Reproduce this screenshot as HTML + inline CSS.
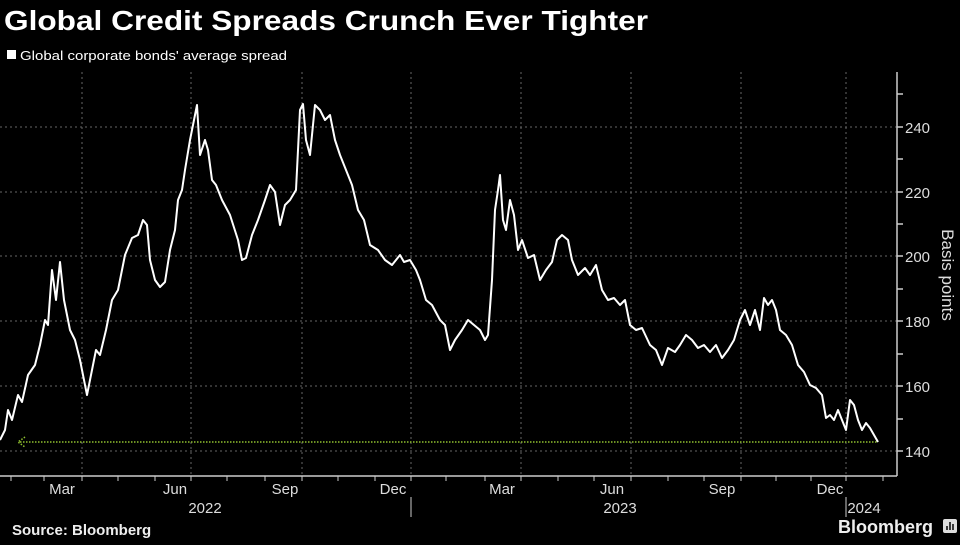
<!DOCTYPE html>
<html><head><meta charset="utf-8"><style>
body{margin:0;background:#000;width:960px;height:540px;overflow:hidden;font-family:"Liberation Sans",sans-serif;}
</style></head><body>
<svg width="960" height="540" xmlns="http://www.w3.org/2000/svg" font-family="Liberation Sans, sans-serif">
<rect width="960" height="540" fill="#000"/>
<text x="4" y="30" fill="#fff" font-size="28" font-weight="bold" textLength="644" lengthAdjust="spacingAndGlyphs">Global Credit Spreads Crunch Ever Tighter</text>
<rect x="7" y="50" width="9" height="9" fill="#fff"/>
<text x="20" y="60" fill="#fff" font-size="13" textLength="267" lengthAdjust="spacingAndGlyphs">Global corporate bonds' average spread</text>
<g stroke="#666" stroke-dasharray="2,3" stroke-width="1">
<line x1="0" y1="451" x2="897" y2="451"/><line x1="0" y1="386" x2="897" y2="386"/>
<line x1="0" y1="321" x2="897" y2="321"/><line x1="0" y1="256" x2="897" y2="256"/>
<line x1="0" y1="192" x2="897" y2="192"/><line x1="0" y1="127" x2="897" y2="127"/>
<line x1="82" y1="72" x2="82" y2="476"/><line x1="191" y1="72" x2="191" y2="476"/>
<line x1="302" y1="72" x2="302" y2="476"/><line x1="411" y1="72" x2="411" y2="476"/>
<line x1="521" y1="72" x2="521" y2="476"/><line x1="631" y1="72" x2="631" y2="476"/>
<line x1="741" y1="72" x2="741" y2="476"/><line x1="846" y1="72" x2="846" y2="476"/>
</g>
<g stroke="#ccc" stroke-width="1.5">
<line x1="0" y1="476" x2="897" y2="476"/><line x1="897" y1="72" x2="897" y2="476"/>
<line x1="897" y1="451" x2="903" y2="451"/><line x1="897" y1="419" x2="903" y2="419"/><line x1="897" y1="386" x2="903" y2="386"/><line x1="897" y1="354" x2="903" y2="354"/><line x1="897" y1="321" x2="903" y2="321"/><line x1="897" y1="289" x2="903" y2="289"/><line x1="897" y1="256" x2="903" y2="256"/><line x1="897" y1="224" x2="903" y2="224"/><line x1="897" y1="192" x2="903" y2="192"/><line x1="897" y1="159" x2="903" y2="159"/><line x1="897" y1="127" x2="903" y2="127"/><line x1="897" y1="94" x2="903" y2="94"/>
</g>
<g stroke="#ccc" stroke-width="1">
<line x1="11" y1="476" x2="11" y2="481"/><line x1="44" y1="476" x2="44" y2="481"/><line x1="82" y1="476" x2="82" y2="481"/><line x1="118" y1="476" x2="118" y2="481"/><line x1="155" y1="476" x2="155" y2="481"/><line x1="191" y1="476" x2="191" y2="481"/><line x1="227" y1="476" x2="227" y2="481"/><line x1="265" y1="476" x2="265" y2="481"/><line x1="302" y1="476" x2="302" y2="481"/><line x1="338" y1="476" x2="338" y2="481"/><line x1="375" y1="476" x2="375" y2="481"/><line x1="411" y1="476" x2="411" y2="481"/><line x1="446" y1="476" x2="446" y2="481"/><line x1="485" y1="476" x2="485" y2="481"/><line x1="521" y1="476" x2="521" y2="481"/><line x1="558" y1="476" x2="558" y2="481"/><line x1="594" y1="476" x2="594" y2="481"/><line x1="631" y1="476" x2="631" y2="481"/><line x1="668" y1="476" x2="668" y2="481"/><line x1="704" y1="476" x2="704" y2="481"/><line x1="741" y1="476" x2="741" y2="481"/><line x1="776" y1="476" x2="776" y2="481"/><line x1="811" y1="476" x2="811" y2="481"/><line x1="846" y1="476" x2="846" y2="481"/><line x1="883" y1="476" x2="883" y2="481"/>
<line x1="411" y1="497" x2="411" y2="517"/><line x1="846" y1="497" x2="846" y2="517"/>
</g>
<g fill="#ddd" font-size="15">
<text x="62" y="494" text-anchor="middle">Mar</text><text x="175" y="494" text-anchor="middle">Jun</text>
<text x="285" y="494" text-anchor="middle">Sep</text><text x="393" y="494" text-anchor="middle">Dec</text>
<text x="502" y="494" text-anchor="middle">Mar</text><text x="612" y="494" text-anchor="middle">Jun</text>
<text x="722" y="494" text-anchor="middle">Sep</text><text x="830" y="494" text-anchor="middle">Dec</text>
<text x="205" y="513" text-anchor="middle">2022</text><text x="620" y="513" text-anchor="middle">2023</text>
<text x="864" y="513" text-anchor="middle">2024</text>
<text x="905" y="457">140</text><text x="905" y="392">160</text><text x="905" y="327">180</text>
<text x="905" y="262">200</text><text x="905" y="198">220</text><text x="905" y="133">240</text>
</g>
<text transform="translate(942,275) rotate(90)" fill="#ddd" font-size="17" text-anchor="middle">Basis points</text>
<line x1="20" y1="442" x2="878" y2="442" stroke="#8fbf2f" stroke-width="1.5" stroke-dasharray="1.5,1.5"/>
<polyline points="25,437 18,442 25,447" fill="none" stroke="#8fbf2f" stroke-width="1.5" stroke-dasharray="1.5,1.5"/>
<polyline fill="none" stroke="#fff" stroke-width="2" stroke-linejoin="round" points="0,440 5,430 8,410 12,420 18,395 22,402 28,375 35,365 40,345 45,320 48,325 52,270 56,300 60,262 64,300 70,330 75,340 80,360 87,395 92,370 96,350 100,355 106,330 112,300 118,290 125,255 132,238 138,235 143,220 147,225 150,260 155,280 160,287 165,282 170,250 175,230 178,200 182,190 185,170 190,140 194,120 197,105 200,155 205,140 208,150 212,180 216,185 222,200 230,215 238,240 242,260 246,258 252,235 258,220 265,200 270,185 275,192 280,225 285,205 290,200 296,190 300,110 303,104 306,140 310,155 315,105 320,110 325,120 330,115 335,140 340,155 346,170 352,185 358,210 364,220 370,245 378,250 385,260 392,265 400,255 404,262 410,260 416,270 420,280 426,300 432,305 440,320 445,325 450,350 455,340 462,330 468,320 474,325 480,330 485,340 488,335 492,280 495,210 498,190 500,175 503,220 506,230 510,200 514,215 518,250 522,240 528,258 534,255 540,280 546,270 552,262 557,240 562,235 568,240 572,260 578,275 585,268 590,275 596,265 602,290 608,300 614,298 620,305 625,300 630,325 636,330 642,328 650,345 656,350 662,365 668,348 675,352 680,345 686,335 692,340 698,348 704,345 710,352 716,345 722,358 728,350 734,340 740,320 745,310 750,325 755,310 760,330 764,298 768,305 772,300 776,310 780,330 786,335 792,345 798,365 804,372 810,385 816,388 822,395 826,418 830,415 834,420 838,410 842,420 846,430 850,400 854,405 858,420 862,430 866,423 870,428 874,435 878,442"/>
<text x="12" y="535" fill="#eee" font-size="15" font-weight="bold">Source: Bloomberg</text>
<text x="838" y="533" fill="#eee" font-size="18" font-weight="bold">Bloomberg</text>
<rect x="943" y="519" width="14" height="14" rx="2" fill="#ddd"/>
<g stroke="#000" stroke-width="1.5"><line x1="947" y1="530" x2="947" y2="526"/><line x1="950" y1="530" x2="950" y2="522"/><line x1="953" y1="530" x2="953" y2="524"/></g>
</svg>
</body></html>
